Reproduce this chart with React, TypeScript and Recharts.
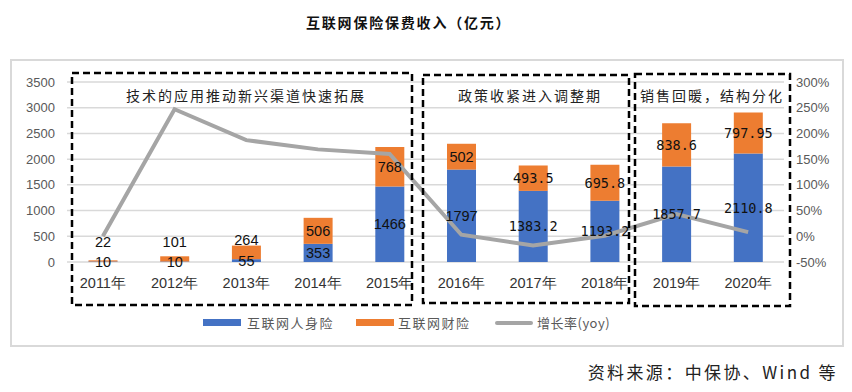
import React from 'react';
import { ComposedChart, Bar, Line, XAxis, YAxis, CartesianGrid, LabelList } from 'recharts';

const categories = ['2011年', '2012年', '2013年', '2014年', '2015年', '2016年', '2017年', '2018年', '2019年', '2020年'];
const lifeValues = [10, 10, 55, 353, 1466, 1797, 1383.2, 1193.2, 1857.7, 2110.8];
const propertyValues = [22, 101, 264, 506, 768, 502, 493.5, 695.8, 838.6, 797.95];
const growthValues = [0, 247, 187, 169, 160, 3, -18, 1, 43, 8];
const leftTicks = [0, 500, 1000, 1500, 2000, 2500, 3000, 3500];
const rightTicks = [-50, 0, 50, 100, 150, 200, 250, 300];
const seriesNames = ['互联网人身险', '互联网财险', '增长率(yoy)'];
const seriesColors = ['#4472C4', '#ED7D31', '#A5A5A5'];
const periodLabels = ['技术的应用推动新兴渠道快速拓展', '政策收紧进入调整期', '销售回暖，结构分化'];
const titleText = '互联网保险保费收入（亿元）';
const sourceText = '资料来源：中保协、Wind 等';

const data = categories.map((c, i) => ({
  name: c,
  life: lifeValues[i],
  property: propertyValues[i],
  growth: growthValues[i],
}));

const makeLabel = (isTop: boolean) => (props: any) => {
  const { x, y, width, height, value } = props;
  const cx = Number(x) + Number(width) / 2;
  let cy = Number(y) + Number(height) / 2;
  if (isTop && Number(height) < 20) cy = Number(y) + Number(height) - 19;
  const isDec = String(value).includes('.');
  return (
    <text
      x={cx}
      y={cy}
      textAnchor="middle"
      dominantBaseline="central"
      fontSize={isDec ? 13.5 : 14.5}
      fontFamily={isDec ? '"DejaVu Sans Mono", monospace' : '"Liberation Sans", Arial, sans-serif'}
      fill="#111"
    >
      {value}
    </text>
  );
};

const boxes = [
  { x1: 72, y1: 73, x2: 412, y2: 305, label: periodLabels[0], lx: 246 },
  { x1: 423, y1: 75, x2: 629, y2: 303, label: periodLabels[1], lx: 530 },
  { x1: 635, y1: 74, x2: 790, y2: 306, label: periodLabels[2], lx: 712 },
];

export default function App() {
  return (
    <div style={{ position: 'absolute', left: 0, top: 0, width: 852, height: 392, background: '#fff', overflow: 'hidden' }}>
      <div
        style={{
          position: 'absolute',
          left: 10,
          top: 59,
          width: 830,
          height: 284,
          border: '2px solid #d9d9d9',
        }}
      />
      <div
        style={{
          position: 'absolute',
          left: 306,
          top: 12,
          width: 204,
          textAlign: 'center',
          fontFamily: '"Noto Sans CJK SC", sans-serif',
          fontWeight: 700,
          fontSize: 14,
          letterSpacing: 1.8,
          color: '#111',
          whiteSpace: 'nowrap',
        }}
      >
        {titleText}
      </div>
      <div style={{ position: 'absolute', left: 0, top: 0 }}>
        <ComposedChart
          width={852}
          height={300}
          data={data}
          margin={{ top: 82, right: 0, bottom: 8, left: 0 }}
          barCategoryGap="30%"
        >
          <CartesianGrid vertical={false} stroke="#d9d9d9" strokeWidth={1.5} yAxisId="left" />
          <XAxis
            dataKey="name"
            height={30}
            tickLine={false}
            axisLine={false}
            tickSize={6}
            tickMargin={10}
            interval={0}
            tick={{ fontSize: 14.5, fill: '#333', fontFamily: '"Liberation Sans", Arial, sans-serif' }}
          />
          <YAxis
            yAxisId="left"
            orientation="left"
            width={67}
            domain={[0, 3500]}
            ticks={leftTicks}
            tickLine={false}
            axisLine={false}
            tickSize={6}
            tickMargin={6}
            tick={{ fontSize: 13, fill: '#595959', fontFamily: '"Liberation Sans", Arial, sans-serif' }}
          />
          <YAxis
            yAxisId="right"
            orientation="right"
            width={68}
            domain={[-50, 300]}
            ticks={rightTicks}
            tickFormatter={(v: number) => `${v}%`}
            tickLine={false}
            axisLine={false}
            tickSize={6}
            tickMargin={6}
            tick={{ fontSize: 13, fill: '#595959', fontFamily: '"Liberation Sans", Arial, sans-serif', textAnchor: 'start' }}
          />
          <Bar dataKey="life" name={seriesNames[0]} stackId="a" yAxisId="left" fill={seriesColors[0]} isAnimationActive={false}>
            <LabelList dataKey="life" content={makeLabel(false)} />
          </Bar>
          <Bar dataKey="property" name={seriesNames[1]} stackId="a" yAxisId="left" fill={seriesColors[1]} isAnimationActive={false}>
            <LabelList dataKey="property" content={makeLabel(true)} />
          </Bar>
          <Line
            dataKey="growth"
            name={seriesNames[2]}
            yAxisId="right"
            type="linear"
            stroke={seriesColors[2]}
            strokeWidth={4}
            dot={false}
            activeDot={false}
            isAnimationActive={false}
          />
        </ComposedChart>
      </div>
      <svg
        width={852}
        height={392}
        style={{ position: 'absolute', left: 0, top: 0, pointerEvents: 'none' }}
      >
        {boxes.map((b, i) => (
          <g key={i}>
            <rect
              x={b.x1}
              y={b.y1}
              width={b.x2 - b.x1}
              height={b.y2 - b.y1}
              fill="none"
              stroke="#000"
              strokeWidth={2.5}
              strokeDasharray="7 4"
            />
            <text
              x={b.lx}
              y={95}
              textAnchor="middle"
              dominantBaseline="central"
              fontSize={14}
              letterSpacing={2}
              fontFamily='"Noto Sans CJK SC", sans-serif'
              fill="#222"
            >
              {b.label}
            </text>
          </g>
        ))}
      </svg>
      <div
        style={{
          position: 'absolute',
          left: 0,
          top: 313,
          width: 852,
          height: 20,
          fontFamily: '"Noto Sans CJK SC", sans-serif',
          fontSize: 13,
          color: '#595959',
        }}
      >
        {[
          { sx: 203, tx: 247, type: 'rect' },
          { sx: 356, tx: 398, type: 'rect' },
          { sx: 495, tx: 537, type: 'line' },
        ].map((it, i) => (
          <React.Fragment key={i}>
            <div
              style={{
                position: 'absolute',
                left: it.sx,
                top: it.type === 'rect' ? 6 : 8,
                width: 38,
                height: it.type === 'rect' ? 7 : 4,
                background: seriesColors[i],
                borderRadius: it.type === 'line' ? 2 : 0,
              }}
            />
            <div
              style={{
                position: 'absolute',
                left: it.tx,
                top: 0,
                lineHeight: '20px',
                letterSpacing: i === 2 ? 0.5 : 1.5,
                whiteSpace: 'nowrap',
              }}
            >
              {seriesNames[i]}
            </div>
          </React.Fragment>
        ))}
      </div>
      <div
        style={{
          position: 'absolute',
          right: 14,
          top: 360,
          fontFamily: '"Noto Sans CJK SC", sans-serif',
          fontSize: 17,
          letterSpacing: 2.4,
          color: '#222',
          whiteSpace: 'nowrap',
          lineHeight: '24px',
        }}
      >
        {sourceText}
      </div>
    </div>
  );
}
